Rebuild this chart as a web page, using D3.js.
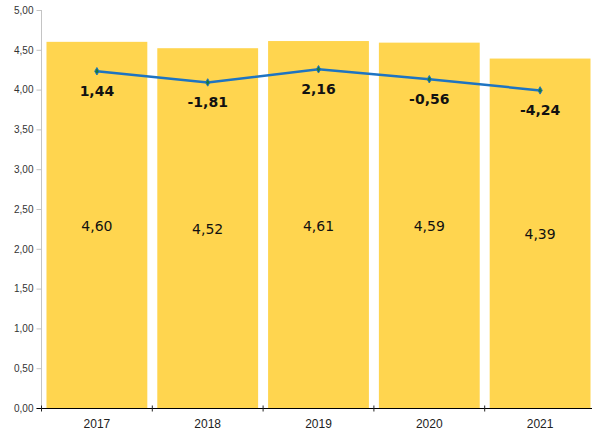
<!DOCTYPE html>
<html><head><meta charset="utf-8">
<script src="https://cdn.jsdelivr.net/npm/d3@7"></script>
<style>body{margin:0;background:#fff}svg{display:block}</style>
</head><body>
<svg id="c" width="592" height="433"></svg>
<script>
const years = ["2017","2018","2019","2020","2021"];
const barValues = [4.60, 4.52, 4.61, 4.59, 4.39];
const lineValues = [4.23, 4.09, 4.255, 4.13, 3.99];
const changeLabels = [1.44, -1.81, 2.16, -0.56, -4.24];
const yTicks = [0,0.5,1,1.5,2,2.5,3,3.5,4,4.5,5];

const svg = d3.select("#c");
const fmt = v => d3.format(".2f")(v).replace(".", ",").replace("−","-");
const x = d3.scaleBand().domain(years).range([41.5, 595.5]).paddingInner(0.09).paddingOuter(0.045);
const y = d3.scaleLinear().domain([0,5]).range([408,10]);

// bars
svg.selectAll("rect.bar").data(years).join("rect")
  .attr("x", d => x(d)).attr("width", x.bandwidth())
  .attr("y", (d,i) => y(barValues[i])).attr("height", (d,i) => y(0)-y(barValues[i]))
  .attr("fill", "#FFD54F");

// y axis
const yAxis = svg.append("g").attr("transform","translate(41.5,0)")
  .call(d3.axisLeft(y).tickValues(yTicks).tickFormat(fmt).tickSize(5).tickPadding(3));
yAxis.select(".domain").attr("stroke","#c4c4c4").attr("d","M0,10V408");
yAxis.selectAll(".tick line").attr("stroke","#c4c4c4");
yAxis.selectAll(".tick text").attr("font-family","Liberation Sans, Arial, sans-serif").attr("font-size","10px").attr("fill","#333");

// x axis
const step = x.step();
const xg = svg.append("g").attr("transform","translate(0,408.5)");
xg.append("line").attr("x1",36.5).attr("x2",592).attr("stroke","#000");
const bounds = years.map((d,i) => 41.5 + i*step);
xg.selectAll("line.t").data(bounds).join("line").attr("class","t")
  .attr("x1", d=>d).attr("x2", d=>d).attr("y1",-3).attr("y2",3).attr("stroke","#222");
xg.selectAll("text").data(years).join("text")
  .attr("x", d => x(d)+x.bandwidth()/2).attr("y", 19)
  .attr("text-anchor","middle").attr("font-family","Liberation Sans, Arial, sans-serif")
  .attr("font-size","12px").attr("fill","#222").text(d=>d);

// bar labels
svg.selectAll("text.bl").data(years).join("text").attr("class","bl")
  .attr("x", d => x(d)+x.bandwidth()/2)
  .attr("y", (d,i) => (y(barValues[i])+y(0))/2 + 6)
  .attr("text-anchor","middle").attr("font-family","DejaVu Sans, Verdana, sans-serif")
  .attr("font-size","14px").attr("fill","#111").text((d,i)=>fmt(barValues[i]));

// line
const cx = d => x(d)+x.bandwidth()/2;
svg.append("path").datum(years)
  .attr("d", d3.line().x(cx).y((d,i)=>y(lineValues[i])))
  .attr("fill","none").attr("stroke","#1E74C2").attr("stroke-width",2.5);
svg.selectAll("path.m").data(years).join("path").attr("class","m")
  .attr("transform",(d,i)=>`translate(${cx(d)},${y(lineValues[i])})`)
  .attr("d", d3.symbol(d3.symbolDiamond, 16)())
  .attr("fill","#1a7a3a").attr("stroke","#1E74C2").attr("stroke-width",1);

// change labels
svg.selectAll("text.cl").data(years).join("text").attr("class","cl")
  .attr("x", cx).attr("y",(d,i)=>y(lineValues[i])+25)
  .attr("text-anchor","middle").attr("font-family","DejaVu Sans, Verdana, sans-serif")
  .attr("font-weight","bold").attr("font-size","14px").attr("fill","#111")
  .text((d,i)=>fmt(changeLabels[i]));
</script>
</body></html>
